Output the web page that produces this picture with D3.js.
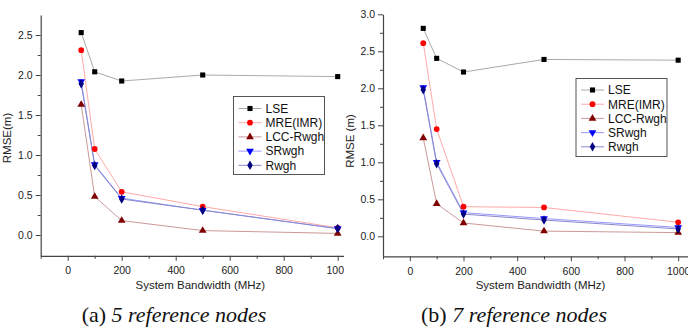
<!DOCTYPE html>
<html lang="en">
<head>
    <meta charset="UTF-8">
    <title>RMSE vs System Bandwidth</title>
    <script src="https://d3js.org/d3.v7.min.js"></script>
    <style>
        html, body { margin: 0; padding: 0; background: #fff; }
        svg { display: block; }
        .tick text { font-family: "Liberation Sans", Arial, sans-serif; font-size: 10.5px; fill: #222; }
    </style>
</head>
<body>
    <svg width="688" height="329"></svg>
    <script>
        const bandwidth = [50, 100, 200, 500, 1000];
        const seriesNames = ['LSE', 'MRE(IMR)', 'LCC-Rwgh', 'SRwgh', 'Rwgh'];
        const xTicks = [0, 200, 400, 600, 800, 1000];

        // (a) 5 reference nodes
        const lse5 = [2.53, 2.04, 1.925, 2.0, 1.98];
        const mre5 = [2.31, 1.075, 0.54, 0.355, 0.09];
        const lcc5 = [1.63, 0.48, 0.18, 0.055, 0.02];
        const srwgh5 = [1.92, 0.88, 0.46, 0.31, 0.08];
        const rwgh5 = [1.89, 0.87, 0.45, 0.31, 0.08];
        const yTicks5 = [0.0, 0.5, 1.0, 1.5, 2.0, 2.5];

        // (b) 7 reference nodes
        const lse7 = [2.81, 2.405, 2.22, 2.39, 2.38];
        const mre7 = [2.61, 1.45, 0.40, 0.39, 0.19];
        const lcc7 = [1.33, 0.44, 0.18, 0.07, 0.05];
        const srwgh7 = [2.01, 1.00, 0.32, 0.24, 0.12];
        const rwgh7 = [1.98, 0.98, 0.30, 0.22, 0.10];
        const yTicks7 = [0.0, 0.5, 1.0, 1.5, 2.0, 2.5, 3.0];

        const styles = [
            {marker: d3.symbolSquare, size: 26, fill: '#000', line: '#aaaaaa', rot: 0},
            {marker: d3.symbolCircle, size: 26, fill: '#ff0000', line: '#ffaaaa', rot: 0},
            {marker: d3.symbolTriangle, size: 26, fill: '#800000', line: '#cc9999', rot: 0},
            {marker: d3.symbolTriangle, size: 26, fill: '#0000ff', line: '#9999ff', rot: 180},
            {marker: d3.symbolDiamond, size: 26, fill: '#000080', line: '#8888cc', rot: 0}
        ];

        const svg = d3.select('svg');
        const defs = svg.append('defs');

        function drawPanel(id, p) {
            defs.append('clipPath').attr('id', 'clip-' + id)
                .append('rect').attr('x', p.clip[0]).attr('y', 0)
                .attr('width', p.clip[1] - p.clip[0]).attr('height', 329);

            const g = svg.append('g').attr('clip-path', `url(#clip-${id})`);

            const x = d3.scaleLinear().domain([-100, 1050]).range(p.xRange);
            const y = d3.scaleLinear().domain(p.yDomain).range(p.yRange);

            // minor ticks
            const xMinor = d3.range(-100, 1051, 200);
            const yMinor = d3.range(0.25, p.yDomain[1], 0.5);

            g.append('g')
                .attr('transform', `translate(0,${p.yRange[0]})`)
                .call(d3.axisBottom(x).tickValues(xMinor).tickSize(3).tickFormat(''))
                .call(a => a.select('.domain').remove())
                .selectAll('line').attr('stroke', '#444');
            g.append('g')
                .attr('transform', `translate(${p.xRange[0]},0)`)
                .call(d3.axisLeft(y).tickValues(yMinor).tickSize(3).tickFormat(''))
                .call(a => a.select('.domain').remove())
                .selectAll('line').attr('stroke', '#444');

            const xAxis = g.append('g')
                .attr('transform', `translate(0,${p.yRange[0]})`)
                .call(d3.axisBottom(x).tickValues(xTicks).tickSize(5).tickSizeOuter(0)
                    .tickFormat(d3.format('d')).tickPadding(6));
            const yAxis = g.append('g')
                .attr('transform', `translate(${p.xRange[0]},0)`)
                .call(d3.axisLeft(y).tickValues(p.yTicks).tickSize(5).tickSizeOuter(0)
                    .tickFormat(d3.format('.1f')).tickPadding(3));
            [xAxis, yAxis].forEach(a => {
                a.select('.domain').attr('stroke', '#444').attr('stroke-width', 1.2);
                a.selectAll('.tick line').attr('stroke', '#444');
            });

            // series
            const line = d3.line().x((d, i) => x(bandwidth[i])).y(d => y(d));
            p.series.forEach((vals, k) => {
                const s = styles[k];
                g.append('path').datum(vals)
                    .attr('fill', 'none').attr('stroke', s.line).attr('stroke-width', 1)
                    .attr('d', line);
            });
            p.series.forEach((vals, k) => {
                const s = styles[k];
                g.append('g').selectAll('path').data(vals).join('path')
                    .attr('d', d3.symbol().type(s.marker).size(s.size))
                    .attr('fill', s.fill)
                    .attr('transform', (d, i) => `translate(${x(bandwidth[i])},${y(d)}) rotate(${s.rot})`);
            });

            // axis titles
            svg.append('text')
                .attr('x', (p.xRange[0] + p.clip[1]) / 2 + p.xLabelShift).attr('y', 289)
                .attr('text-anchor', 'middle')
                .attr('font-family', '"Liberation Sans", Arial, sans-serif').attr('font-size', 11.5)
                .attr('fill', '#222')
                .text('System Bandwidth (MHz)');
            svg.append('text')
                .attr('transform', `translate(${p.yLabelX},${p.yLabelY}) rotate(-90)`)
                .attr('text-anchor', 'middle')
                .attr('font-family', '"Liberation Sans", Arial, sans-serif').attr('font-size', 11.5)
                .attr('fill', '#222')
                .text(p.yLabel);

            // legend
            const L = p.legend;
            svg.append('rect')
                .attr('x', L.x).attr('y', L.y).attr('width', L.w).attr('height', L.h)
                .attr('fill', '#fff').attr('stroke', '#555').attr('stroke-width', 1);
            seriesNames.forEach((name, k) => {
                const s = styles[k];
                const cy = L.y + L.first + k * L.step;
                svg.append('line')
                    .attr('x1', L.x + 5).attr('x2', L.x + 28).attr('y1', cy).attr('y2', cy)
                    .attr('stroke', s.line).attr('stroke-width', 1);
                svg.append('path')
                    .attr('d', d3.symbol().type(s.marker).size(s.size))
                    .attr('fill', s.fill)
                    .attr('transform', `translate(${L.x + 16.5},${cy}) rotate(${s.rot})`);
                svg.append('text')
                    .attr('x', L.x + 32).attr('y', cy).attr('dy', '0.36em')
                    .attr('font-family', '"Liberation Sans", Arial, sans-serif').attr('font-size', 12)
                    .attr('fill', '#111')
                    .text(name);
            });

            // caption
            const cap = svg.append('text')
                .attr('x', p.capX).attr('y', 322)
                .attr('text-anchor', 'middle')
                .attr('font-family', '"Liberation Serif", "Times New Roman", serif').attr('font-size', 22)
                .attr('fill', '#111');
            cap.append('tspan').text(p.capPrefix + ' ');
            cap.append('tspan').attr('font-style', 'italic').text(p.capText);
        }

        drawPanel('a', {
            clip: [0, 344],
            xRange: [40.7, 351.2],
            yDomain: [-0.26, 2.75],
            yRange: [255.8, 15],
            yTicks: yTicks5,
            series: [lse5, mre5, lcc5, srwgh5, rwgh5],
            yLabel: 'RMSE(m)', yLabelX: 11, yLabelY: 138,
            xLabelShift: 8,
            legend: {x: 233.5, y: 96.5, w: 91, h: 78, first: 12, step: 14.2},
            capX: 174, capPrefix: '(a)', capText: '5 reference nodes'
        });

        drawPanel('b', {
            clip: [344, 688],
            xRange: [383, 691.6],
            yDomain: [-0.27, 3.0],
            yRange: [256.3, 14.3],
            yTicks: yTicks7,
            series: [lse7, mre7, lcc7, srwgh7, rwgh7],
            yLabel: 'RMSE (m)', yLabelX: 354, yLabelY: 141,
            xLabelShift: 5,
            legend: {x: 576, y: 78.5, w: 91, h: 78, first: 11.5, step: 14.2},
            capX: 514, capPrefix: '(b)', capText: '7 reference nodes'
        });
    </script>
</body>
</html>
